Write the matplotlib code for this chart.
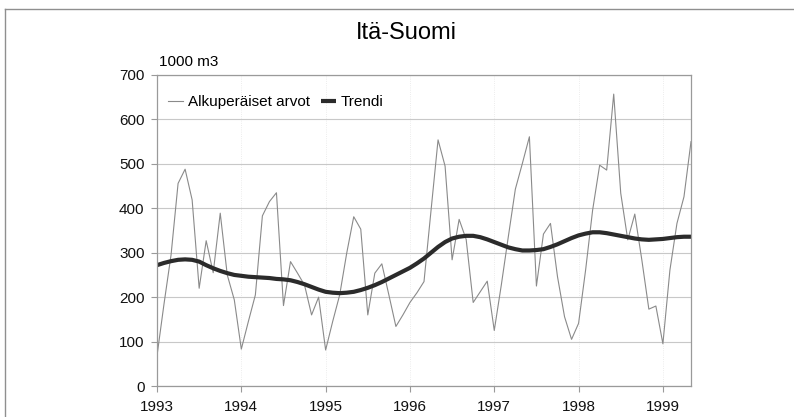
import matplotlib
matplotlib.use("Agg")
import matplotlib.pyplot as plt
from matplotlib.lines import Line2D

plt.rcParams['font.family'] = ['Liberation Sans', 'DejaVu Sans']

# Monthly data Jan 1993 .. May 1999 (1000 m3)
original = [68, 185, 295, 456, 488, 419, 220, 327, 255, 389, 250, 194,
            83, 145, 205, 383, 415, 435, 181, 280, 254, 227, 160, 200,
            81, 145, 205, 299, 381, 353, 160, 254, 275, 205, 134, 160,
            188, 210, 235, 395, 554, 495, 284, 375, 330, 188, 212, 236,
            125, 227, 336, 443, 501, 561, 225, 342, 366, 246, 156, 105,
            141, 261, 396, 497, 486, 657, 434, 329, 387, 284, 173, 180,
            95, 261, 366, 426, 550]
trend = [272, 277, 281, 284, 285, 284, 280, 272, 265, 259, 254, 250,
         248, 246, 245, 244, 243, 241, 240, 238, 234, 229, 223, 217,
         212, 210, 209, 210, 212, 216, 221, 227, 234, 242, 250, 258,
         266, 276, 287, 300, 313, 324, 332, 336, 338, 338, 335, 330,
         324, 318, 312, 308, 305, 305, 306, 308, 313, 319, 326, 333,
         339, 343, 346, 346, 344, 341, 338, 335, 332, 330, 329, 330,
         331, 333, 335, 336, 336]
year_labels = ['1993', '1994', '1995', '1996', '1997', '1998', '1999']
y_ticks = [0, 100, 200, 300, 400, 500, 600, 700]

months = list(range(len(original)))
year_pos = [12 * i for i in range(len(year_labels))]

fig = plt.figure(figsize=(7.94, 4.17), dpi=100)
ax = fig.add_axes([157 / 794, 1 - 386 / 417, (691 - 157) / 794, (386 - 75) / 417])

ax.plot(months, original, color='#8a8a8a', lw=0.8, label='Alkuperäiset arvot')
ax.plot(months, trend, color='#2b2b2b', lw=3.0, label='Trendi', solid_capstyle='butt')

ax.set_xlim(0, len(original) - 1)
ax.set_ylim(0, 700)
ax.set_yticks(y_ticks)
ax.set_xticks(year_pos)
ax.set_xticklabels(year_labels)

ax.grid(axis='y', color='#c8c8c8', lw=0.8)
ax.grid(axis='x', color='#e6e6e6', lw=0.6, linestyle=':')
ax.set_axisbelow(True)
for s in ax.spines.values():
    s.set_color('#9a9a9a')
    s.set_linewidth(0.9)
ax.tick_params(axis='both', labelsize=11, colors='#9a9a9a', labelcolor='#111111', length=4)
ax.tick_params(axis='x', pad=6)
ax.tick_params(axis='y', pad=5)

leg = ax.legend(loc='upper left', ncol=2, frameon=False, fontsize=11,
                bbox_to_anchor=(0.0, 0.97), handlelength=1.0, columnspacing=0.75,
                handletextpad=0.3, borderaxespad=0.3)

fig.text(406 / 794, 1 - 33 / 417, 'Itä-Suomi', ha='center', va='center', fontsize=17)
fig.text(159 / 794, 1 - 62 / 417, '1000 m3', ha='left', va='center', fontsize=11)

# outer chart border
fig.add_artist(Line2D([5 / 794, 5 / 794], [0, 1 - 9 / 417], transform=fig.transFigure, color='#8f8f8f', lw=1))
fig.add_artist(Line2D([5 / 794, 1], [1 - 9 / 417, 1 - 9 / 417], transform=fig.transFigure, color='#8f8f8f', lw=1))

fig.savefig('out.png', dpi=100)
